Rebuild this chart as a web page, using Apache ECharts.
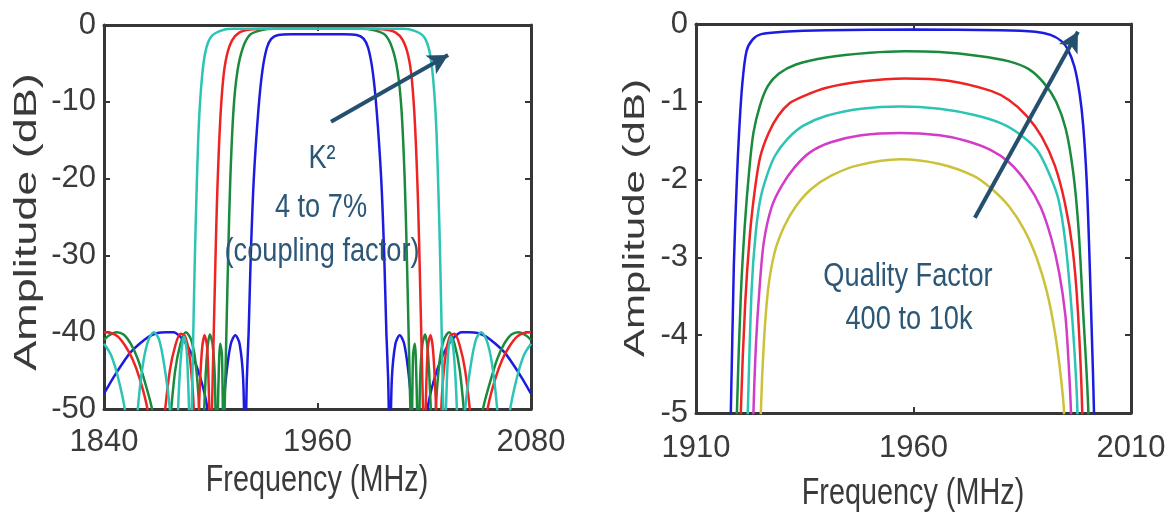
<!DOCTYPE html>
<html>
<head>
<meta charset="utf-8">
<script src="https://cdn.jsdelivr.net/npm/echarts@6.0.0/dist/echarts.min.js"></script>
<style>
  html, body { margin: 0; padding: 0; background: #fff; }
  #chart { width: 1175px; height: 518px; }
</style>
</head>
<body>
<div id="chart"></div>
<script>
// ---- left panel: coupling factor sweep (MHz, dB) ----
const kTicksX = [1840, 1960, 2080];
const kTicksY = [0, -10, -20, -30, -40, -50];

const kBlue = [[1840,-48],[1845,-46],[1850,-44.2],[1855,-42.6],[1860,-41.5],[1865,-40.6],[1870,-40.1],[1875,-40],[1879,-40],[1883,-40.6],[1887,-41.8],[1891,-43.8],[1894,-45.8],[1897,-48.5],[1899.5,-52],[1903,-60],[1906.5,-51],[1909,-45],[1911.3,-41.5],[1913.8,-40.4],[1916.2,-41.5],[1918.2,-46],[1919.3,-56],[1920.3,-46],[1921.3,-40],[1922.5,-30],[1924.2,-20],[1926.8,-11],[1929,-6],[1931.5,-3],[1934,-1.8],[1938,-1.3],[1945,-1.2],[1960,-1.2],[1975,-1.2],[1982,-1.3],[1986,-1.8],[1988.5,-3],[1991,-6],[1993.2,-11],[1995.8,-20],[1997.5,-30],[1998.7,-40],[1999.7,-46],[2000.7,-56],[2001.8,-46],[2003.8,-41.5],[2006.2,-40.4],[2008.7,-41.5],[2011,-45],[2013.5,-51],[2017,-60],[2020.5,-52],[2023,-48.5],[2026,-45.8],[2029,-43.8],[2033,-41.8],[2037,-40.6],[2041,-40],[2045,-40],[2050,-40.1],[2055,-40.6],[2060,-41.5],[2065,-42.6],[2070,-44.2],[2075,-46],[2080,-48]];

const kGreen = [[1840,-41],[1843,-40.4],[1847,-40],[1851,-40.3],[1855,-41.5],[1859,-43.5],[1863,-46.5],[1867,-50],[1871,-56],[1874,-60],[1877,-52],[1880,-45],[1883,-41.5],[1886,-40],[1889,-41],[1891.5,-44],[1893.5,-50],[1895,-60],[1896.5,-49],[1898,-42.5],[1899.5,-40.3],[1901,-41.5],[1902.3,-46],[1903.3,-58],[1904.3,-47],[1905.3,-41.5],[1906.3,-43],[1907.2,-55],[1908,-48],[1908.8,-40],[1909.8,-30],[1911,-20],[1912.8,-11],[1915,-6],[1918,-3],[1922,-1.3],[1928,-0.7],[1936,-0.5],[1960,-0.5],[1984,-0.5],[1992,-0.7],[1998,-1.3],[2002,-3],[2005,-6],[2007.2,-11],[2009,-20],[2010.2,-30],[2011.2,-40],[2012,-48],[2012.8,-55],[2013.7,-43],[2014.7,-41.5],[2015.7,-47],[2016.7,-58],[2017.7,-46],[2019,-41.5],[2020.5,-40.3],[2022,-42.5],[2023.5,-49],[2025,-60],[2026.5,-50],[2028.5,-44],[2031,-41],[2034,-40],[2037,-41.5],[2040,-45],[2043,-52],[2046,-60],[2049,-56],[2053,-50],[2057,-46.5],[2061,-43.5],[2065,-41.5],[2069,-40.3],[2073,-40],[2077,-40.4],[2080,-41]];

const kRed = [[1840,-40],[1844,-40.1],[1848,-40.6],[1852,-41.8],[1856,-43.5],[1860,-46],[1864,-49.5],[1868,-55],[1871,-60],[1874,-51],[1877,-45],[1880,-41.8],[1883,-40.2],[1885.5,-40.5],[1888,-43],[1890,-48],[1892,-58],[1893.5,-49],[1895,-42.5],[1896.5,-40.4],[1898,-42],[1899.2,-50],[1900,-58],[1900.7,-50],[1901.5,-42],[1902.4,-33],[1903.5,-23],[1905.2,-13],[1907,-7],[1909,-4],[1912,-2],[1916,-1],[1922,-0.6],[1930,-0.5],[1960,-0.5],[1990,-0.5],[1998,-0.6],[2004,-1],[2008,-2],[2011,-4],[2013,-7],[2014.8,-13],[2016.5,-23],[2017.6,-33],[2018.5,-42],[2019.3,-50],[2020,-58],[2020.8,-50],[2022,-42],[2023.5,-40.4],[2025,-42.5],[2026.5,-49],[2028,-58],[2030,-48],[2032,-43],[2034.5,-40.5],[2037,-40.2],[2040,-41.8],[2043,-45],[2046,-51],[2049,-60],[2052,-55],[2056,-49.5],[2060,-46],[2064,-43.5],[2068,-41.8],[2072,-40.6],[2076,-40.1],[2080,-40]];

const kCyan = [[1840,-41.5],[1844,-43],[1848,-46],[1852,-50.5],[1856,-60],[1859,-50],[1862,-44],[1865,-41],[1868,-40],[1871,-41],[1874,-44.5],[1877,-50],[1880,-60],[1882,-48],[1883.5,-42.5],[1885,-40.6],[1886.5,-42.5],[1887.8,-50],[1888.7,-58],[1889.5,-48],[1890.2,-40],[1891,-31],[1892,-22],[1893.3,-13],[1895,-7],[1897,-3.5],[1900,-1.6],[1905,-0.8],[1912,-0.5],[1960,-0.5],[2008,-0.5],[2015,-0.8],[2020,-1.6],[2023,-3.5],[2025,-7],[2026.7,-13],[2028,-22],[2029,-31],[2029.8,-40],[2030.5,-48],[2031.3,-58],[2032.2,-50],[2033.5,-42.5],[2035,-40.6],[2036.5,-42.5],[2038,-48],[2040,-60],[2043,-50],[2046,-44.5],[2049,-41],[2052,-40],[2055,-41],[2058,-44],[2061,-50],[2064,-60],[2068,-50.5],[2072,-46],[2076,-43],[2080,-41.5]];

// ---- right panel: quality factor sweep (MHz, dB) ----
const qTicksX = [1910, 1960, 2010];
const qTicksY = [0, -1, -2, -3, -4, -5];

const qBlue = [[1916.5,-8],[1918,-5],[1918.7,-3.1],[1919.4,-2],[1919.9,-1.4],[1920.6,-0.8],[1921.6,-0.35],[1923,-0.2],[1925,-0.13],[1930,-0.1],[1940,-0.08],[1960,-0.07],[1980,-0.08],[1988,-0.1],[1991.5,-0.14],[1994,-0.22],[1995.5,-0.33],[1997,-0.55],[1998.2,-0.9],[1999,-1.3],[1999.8,-2],[2000.4,-2.9],[2001,-4],[2001.5,-5],[2002.5,-8]];
const qGreen = [[1918.3,-8],[1919.4,-5],[1920.3,-3.5],[1921.2,-2.6],[1922.2,-1.9],[1923.2,-1.4],[1924.7,-1.05],[1926.5,-0.8],[1929,-0.64],[1933,-0.52],[1940,-0.43],[1950,-0.37],[1958,-0.35],[1966,-0.36],[1975,-0.41],[1982,-0.48],[1986.5,-0.58],[1990,-0.76],[1992.8,-1.0],[1995,-1.35],[1996.7,-1.9],[1997.9,-2.6],[1998.9,-3.6],[2000.2,-5],[2001.2,-8]];
const qRed = [[1919,-8],[1920.3,-5],[1921.3,-3.6],[1922.4,-2.7],[1923.6,-2.1],[1924.8,-1.7],[1926.7,-1.4],[1928.9,-1.18],[1931.5,-1.02],[1934.6,-0.93],[1940,-0.82],[1948,-0.74],[1958,-0.7],[1968,-0.73],[1977.8,-0.86],[1982,-0.98],[1986,-1.18],[1989.5,-1.45],[1992.5,-1.82],[1994.8,-2.3],[1996.6,-2.9],[1997.8,-3.7],[1998.8,-5],[1999.8,-8]];
const qCyan = [[1920.5,-8],[1921.9,-5],[1922.8,-3.4],[1923.7,-2.7],[1924.8,-2.25],[1926.3,-1.95],[1928.1,-1.7],[1931,-1.48],[1934.6,-1.31],[1940,-1.18],[1948,-1.09],[1957,-1.06],[1966,-1.09],[1974,-1.17],[1980.3,-1.28],[1984.5,-1.42],[1988.4,-1.62],[1991,-1.9],[1993.3,-2.25],[1994.9,-2.8],[1996.1,-3.5],[1997,-4.2],[1997.7,-5],[1998.6,-8]];
const qMagenta = [[1921.8,-8],[1923.2,-5],[1923.8,-4.1],[1924.6,-3.4],[1925.6,-2.8],[1927.4,-2.35],[1929.7,-2.08],[1932.7,-1.84],[1936.2,-1.65],[1941,-1.52],[1948,-1.43],[1957,-1.4],[1966,-1.43],[1972,-1.5],[1977.8,-1.62],[1982,-1.78],[1986,-2.04],[1989.2,-2.35],[1991.7,-2.76],[1993.5,-3.2],[1994.9,-3.74],[1995.6,-4.3],[1996.2,-5],[1997.2,-8]];
const qYellow = [[1923.6,-8],[1924.9,-5],[1925.6,-4.1],[1926.6,-3.4],[1928.1,-2.93],[1930.3,-2.6],[1933,-2.34],[1936.5,-2.12],[1941.1,-1.95],[1947,-1.82],[1957,-1.74],[1966,-1.8],[1973.7,-1.95],[1978,-2.12],[1981.9,-2.34],[1985.5,-2.65],[1988.4,-3.02],[1990.7,-3.45],[1992.5,-3.96],[1993.8,-4.5],[1994.6,-5],[1995.6,-8]];

// arrow ends, in data units
const kArrow = [[1967.6, -12.6], [2033.4, -3.9]];
const qArrow = [[1974.1, -2.49], [1997.8, -0.1]];

const AX = '#363636';
const TXT = '#3a3a3a';
const NOTE = '#2c5777';
const FONT = '"Liberation Sans", Arial, sans-serif';

function xAx(grid, ticks, pos, withLabel) {
  return {
    type: 'value', gridIndex: grid, position: pos,
    min: ticks[0], max: ticks[ticks.length - 1],
    axisLine: { show: true, onZero: false, lineStyle: { color: AX, width: 3 } },
    axisTick: { show: true, inside: true, length: 6, customValues: ticks, lineStyle: { color: AX, width: 2 } },
    axisLabel: { show: withLabel, customValues: ticks, formatter: v => String(v),
      margin: grid === 0 ? 18 : 20, color: TXT, fontSize: 31, fontFamily: FONT },
    splitLine: { show: false }
  };
}
function yAx(grid, ticks, pos, withLabel) {
  return {
    type: 'value', gridIndex: grid, position: pos,
    min: ticks[ticks.length - 1], max: ticks[0],
    axisLine: { show: true, onZero: false, lineStyle: { color: AX, width: 3 } },
    axisTick: { show: true, inside: true, length: 6, customValues: ticks, lineStyle: { color: AX, width: 2 } },
    axisLabel: { show: withLabel, customValues: ticks, formatter: v => String(v),
      margin: 8, color: TXT, fontSize: 31, fontFamily: FONT },
    splitLine: { show: false }
  };
}
function line(name, data, color, grid) {
  return {
    name, type: 'line', data, xAxisIndex: grid * 2, yAxisIndex: grid * 2,
    showSymbol: false, smooth: 0.3, clip: true, silent: true,
    lineStyle: { color, width: 2.5 }, itemStyle: { color }
  };
}
function arrow(ends) {
  return {
    silent: true, symbol: ['none', 'arrow'], symbolSize: [16, 20],
    label: { show: false },
    lineStyle: { color: '#24506e', width: 4, type: 'solid' },
    data: [[{ coord: ends[0] }, { coord: ends[1] }]]
  };
}

const kSeries = [
  line('blue', kBlue, '#1c1ce0', 0),
  line('green', kGreen, '#1a8a3c', 0),
  line('red', kRed, '#ee2424', 0),
  line('cyan', kCyan, '#2cc4b4', 0)
];
kSeries[3].markLine = arrow(kArrow);

const qSeries = [
  line('yellow', qYellow, '#cbc23a', 1),
  line('magenta', qMagenta, '#d23cc8', 1),
  line('cyan', qCyan, '#2cc4b4', 1),
  line('red', qRed, '#ee2424', 1),
  line('green', qGreen, '#1a8a3c', 1),
  line('blue', qBlue, '#1c1ce0', 1)
];
qSeries[5].markLine = arrow(qArrow);

function note(text, x, y, color, size) {
  return { type: 'text', x, y, scaleX: 0.8, z: 100,
    style: { text, fill: color, font: size + 'px ' + FONT, align: 'center', verticalAlign: 'middle' } };
}
function yTitle(x, y, size) {
  return { type: 'text', x, y, rotation: Math.PI / 2, scaleY: 0.7, z: 100,
    style: { text: 'Amplitude (dB)', fill: TXT, font: size + 'px ' + FONT, align: 'center', verticalAlign: 'middle' } };
}

const chart = echarts.init(document.getElementById('chart'), null, { renderer: 'canvas' });
chart.setOption({
  animation: false,
  backgroundColor: '#fff',
  grid: [
    { left: 104, top: 25, width: 427, height: 384, containLabel: false, outerBoundsMode: 'none' },
    { left: 696, top: 24, width: 435, height: 389, containLabel: false, outerBoundsMode: 'none' }
  ],
  xAxis: [
    xAx(0, kTicksX, 'bottom', true), xAx(0, kTicksX, 'top', false),
    xAx(1, qTicksX, 'bottom', true), xAx(1, qTicksX, 'top', false)
  ],
  yAxis: [
    yAx(0, kTicksY, 'left', true), yAx(0, kTicksY, 'right', false),
    yAx(1, qTicksY, 'left', true), yAx(1, qTicksY, 'right', false)
  ],
  series: kSeries.concat(qSeries),
  graphic: [
    yTitle(27, 222, 45),
    yTitle(636, 218, 42),
    note('Frequency (MHz)', 317, 481, TXT, 36),
    note('Frequency (MHz)', 913, 494, TXT, 36),
    note('K\u00b2', 322, 159, NOTE, 34),
    note('4 to 7%', 321, 208, NOTE, 34),
    note('(coupling factor)', 322, 252, NOTE, 34),
    note('Quality Factor', 908, 277, NOTE, 34),
    note('400 to 10k', 909, 320, NOTE, 34)
  ]
});
</script>
</body>
</html>
